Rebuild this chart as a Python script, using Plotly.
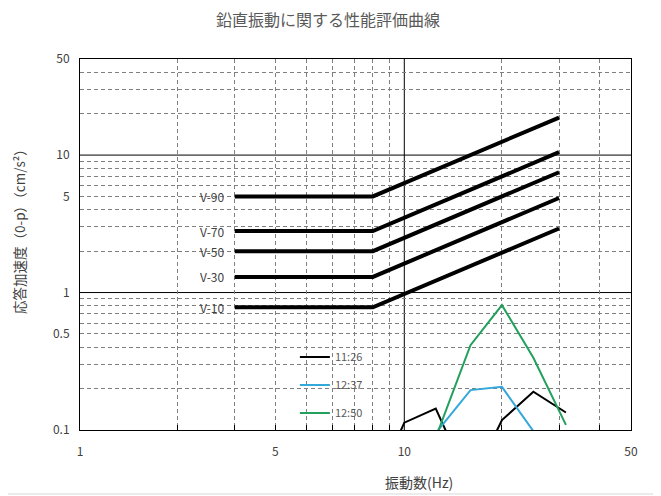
import math
import plotly.graph_objects as go

# ---- data ----
v_freq = [3, 8, 30]
v_names = ["V-90", "V-70", "V-50", "V-30", "V-10"]
v_levels = [5.0, 2.8, 2.0, 1.3, 0.78]   # flat part (3-8 Hz), rising ~f above 8 Hz

freq = [8, 10, 12.5, 16, 20, 25, 31.5]
s_1126 = [0.035, 0.113, 0.143, 0.040, 0.118, 0.19, 0.134]
s_1237 = [None, None, 0.095, 0.195, 0.206, 0.098, 0.06]
s_1250 = [None, None, 0.088, 0.414, 0.81, 0.335, 0.109]
series_names = ["11:26", "12:37", "12:50"]
series_colors = ["#000000", "#33A8DA", "#22A05C"]

# x tick labels: in the reference the "5" label sits at the 4 Hz grid line
x_tickpos = [1, 4, 10, 50]
x_ticklabels = ["1", "5", "10", "50"]
y_ticks = [0.1, 0.5, 1, 5, 10, 50]
x_minor = [2, 3, 4, 5, 6, 7, 8, 9, 20, 30, 40]
y_minor = [0.2, 0.3, 0.4, 0.5, 0.6, 0.7, 0.8, 0.9, 2, 3, 4, 5, 6, 7, 8, 9, 20, 30, 40]
x_solid = [10]
y_solid = [1, 10]

title_text = "鉛直振動に関する性能評価曲線"
x_title = "振動数(Hz)"
y_title = "応答加速度（0-p）（cm/s²）"

FONT = "Noto Sans CJK JP, DejaVu Sans, sans-serif"

fig = go.Figure()

for name, lv in zip(v_names, v_levels):
    ys = [lv, lv, lv * v_freq[2] / v_freq[1]]
    fig.add_trace(go.Scatter(x=v_freq, y=ys, mode="lines", name=name,
                             line=dict(color="black", width=4), showlegend=False,
                             hoverinfo="skip"))

for i, (nm, col, ys) in enumerate(zip(series_names, series_colors, [s_1126, s_1237, s_1250])):
    fig.add_trace(go.Scatter(x=freq, y=ys, mode="lines", name=nm,
                             line=dict(color=col, width=2), legendgroup=f"g{i}",
                             connectgaps=False))

annotations = []
for name, lv in zip(v_names, v_levels):
    annotations.append(dict(x=math.log10(v_freq[0]), y=math.log10(lv), xref="x", yref="y",
                            text=name, showarrow=False, xanchor="right", yanchor="middle",
                            xshift=-9, font=dict(size=12, color="#404040", family=FONT)))
annotations.append(dict(x=-0.1107, y=0.5445, xref="paper", yref="paper", text=y_title,
                        textangle=-90, showarrow=False, xanchor="center", yanchor="middle",
                        font=dict(size=13.5, color="#404040", family=FONT)))
annotations.append(dict(x=0.6152, y=-0.1394, xref="paper", yref="paper", text=x_title,
                        showarrow=False, xanchor="center", yanchor="middle",
                        font=dict(size=14, color="#404040", family=FONT)))

shapes = []
for xv in x_solid:
    shapes.append(dict(type="line", xref="x", yref="paper", x0=xv, x1=xv, y0=0, y1=1,
                       line=dict(color="black", width=1), layer="below"))
for yv in y_solid:
    shapes.append(dict(type="line", xref="paper", yref="y", x0=0, x1=1, y0=yv, y1=yv,
                       line=dict(color="black", width=1), layer="below"))
# outer chart-area border (right and bottom edges visible in the frame)
shapes.append(dict(type="line", xref="paper", yref="paper", x0=1.0526, x1=1.0526,
                   y0=-0.1725, y1=1.2, line=dict(color="#D9D9D9", width=1), layer="below"))
shapes.append(dict(type="line", xref="paper", yref="paper", x0=-0.2, x1=1.0526,
                   y0=-0.1725, y1=-0.1725, line=dict(color="#D9D9D9", width=1), layer="below"))

fig.update_layout(
    width=653, height=488,
    margin=dict(l=72, r=30, t=51, b=66),
    paper_bgcolor="white", plot_bgcolor="white",
    font=dict(family=FONT, size=12, color="#404040"),
    title=dict(text=title_text, x=0.490, xanchor="center", y=0.9754, yanchor="middle",
               font=dict(size=16, color="#595959", family=FONT)),
    showlegend=True,
    legend=dict(x=0.390, y=0.2356, xanchor="left", yanchor="top",
                bgcolor="rgba(0,0,0,0)", font=dict(size=11, color="#595959", family=FONT),
                traceorder="grouped", tracegroupgap=9),
    annotations=annotations,
    shapes=shapes,
)

fig.update_xaxes(type="log", range=[0, 1.69897], tickvals=x_tickpos,
                 ticktext=x_ticklabels, showgrid=False,
                 showline=True, linecolor="black", linewidth=1, mirror=True,
                 ticks="", ticklabelstandoff=11, zeroline=False,
                 tickfont=dict(size=12, color="#404040"),
                 minor=dict(tickmode="array", tickvals=x_minor, showgrid=True,
                            gridcolor="#7F7F7F", griddash="4px,3px", gridwidth=1,
                            ticks="inside", ticklen=5, tickcolor="black"))
fig.update_yaxes(type="log", range=[-1, 1.69897], tickvals=y_ticks,
                 ticktext=[str(v) for v in y_ticks], showgrid=False,
                 showline=True, linecolor="black", linewidth=1, mirror=True,
                 ticks="", ticklabelstandoff=7, zeroline=False,
                 tickfont=dict(size=12, color="#404040"),
                 minor=dict(tickmode="array", tickvals=y_minor, showgrid=True,
                            gridcolor="#7F7F7F", griddash="4px,3px", gridwidth=1,
                            ticks=""))

fig.write_html("out.html")
